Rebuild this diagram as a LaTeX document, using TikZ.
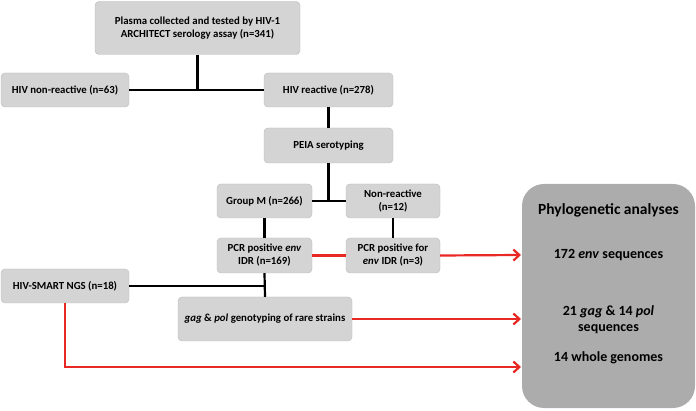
\documentclass[tikz,border=0pt]{standalone}
\usepackage{fontspec}
\setmainfont{Carlito}
\usetikzlibrary{arrows.meta}

\definecolor{boxgray}{RGB}{212,212,212}
\definecolor{boxline}{RGB}{185,185,185}
\definecolor{biggray}{RGB}{172,172,172}
\definecolor{flowred}{RGB}{232,40,36}

\tikzset{
  stepbox/.style={draw=boxline, fill=boxgray, rounded corners=4pt, align=center,
    font=\bfseries\fontsize{10.8}{13}\selectfont, inner sep=1pt},
  phytext/.style={font=\bfseries\fontsize{14}{16}\selectfont, align=center},
  blackline/.style={line width=2.2pt},
  redline/.style={draw=flowred, line width=2.2pt},
  redarrow/.style={redline, -{Straight Barb[length=6pt,width=11pt]}}
}

\begin{document}
\begin{tikzpicture}[x=1pt,y=-1pt]

\useasboundingbox (0,0) rectangle (696,411);

% big box on the right
\draw[fill=biggray, draw=none, rounded corners=22pt] (522,184) rectangle (695,408);
\node[font=\bfseries\fontsize{15.5}{17}\selectfont] (phytitle) at (608.5,210) {Phylogenetic analyses};
\node[phytext] (envseq) at (608.5,255) {172 \textit{env} sequences};
\node[phytext] (gagseq) at (608.5,320) {21 \textit{gag} \& 14 \textit{pol}\\sequences};
\node[phytext] (wholeg) at (608.5,358) {14 whole genomes};

\coordinate (in1) at (521,255);
\coordinate (in2) at (521,320);
\coordinate (in3) at (521,367);

% left hand flow
\node[stepbox, minimum width=205pt, minimum height=53pt] (plasma) at (197.5,28)
  {Plasma collected and tested by HIV-1\\ARCHITECT serology assay (n=341)};

\node[stepbox, minimum width=128pt, minimum height=34pt] (nonreac) at (65,90) {HIV non-reactive (n=63)};
\node[stepbox, minimum width=129pt, minimum height=34pt] (reac) at (328.5,90) {HIV reactive (n=278)};

\node[stepbox, minimum width=129pt, minimum height=35pt] (peia) at (328.5,145.5) {PEIA serotyping};

\node[stepbox, minimum width=95pt, minimum height=34pt] (groupm) at (264.5,201) {Group M (n=266)};
\node[stepbox, minimum width=94pt, minimum height=34pt] (nrtwelve) at (393,201) {Non-reactive\\(n=12)};

\node[stepbox, minimum width=95pt, minimum height=35pt] (pcrenv) at (264.5,255.5) {PCR positive \textit{env}\\IDR (n=169)};
\node[stepbox, minimum width=94pt, minimum height=35pt] (pcrfor) at (393,255.5) {PCR positive for\\\textit{env} IDR (n=3)};

\node[stepbox, minimum width=128pt, minimum height=34pt] (smart) at (65,286) {HIV-SMART NGS (n=18)};
\node[stepbox, minimum width=174pt, minimum height=44pt] (gagpol) at (265,319)
  {\textit{gag} \& \textit{pol} genotyping of rare strains};

% black connectors
\draw[blackline] (nonreac.east) -- (reac.west);
\draw[blackline] (plasma.south) -- (plasma.south |- nonreac.east);
\draw[blackline] (reac.south) -- (peia.north);
\draw[blackline] (groupm.east) -- (nrtwelve.west);
\draw[blackline] (peia.south) -- (peia.south |- groupm.east);
\draw[blackline] (groupm.south) -- (pcrenv.north);
\draw[blackline] (nrtwelve.south) -- (pcrfor.north);
\draw[blackline] (pcrenv.south) -- (gagpol.north);
\draw[blackline] (smart.east) -- (smart.east -| gagpol.north);

% red connectors
\draw[redline] (pcrenv.east) -- (pcrfor.west);
\draw[redarrow] (pcrfor.east) -- (in1);
\draw[redarrow] (gagpol.east) -- (gagpol.east -| in2);
\draw[redarrow] (smart.south) |- (in3);

\end{tikzpicture}
\end{document}
